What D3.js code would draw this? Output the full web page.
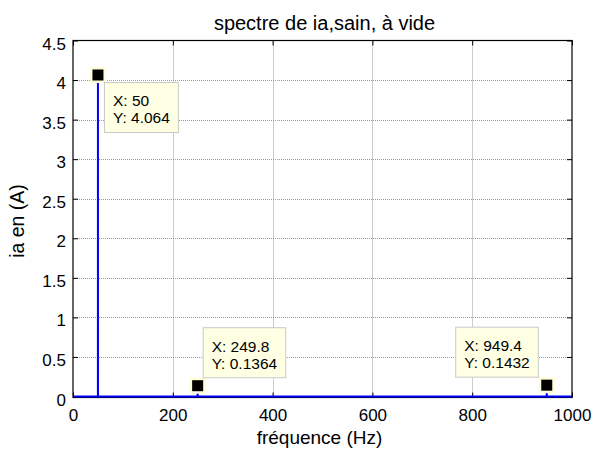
<!DOCTYPE html>
<html>
<head>
<meta charset="utf-8">
<script src="https://cdn.jsdelivr.net/npm/d3@7"></script>
<style>
  html, body { margin: 0; padding: 0; background: #fff; }
  svg { display: block; }
  text { font-family: "Liberation Sans", Arial, Helvetica, sans-serif; fill: #000; }
</style>
</head>
<body>
<svg id="chart" width="593" height="450"></svg>
<script>
// Amplitude spectrum of the phase current (healthy machine, no load)
const freqHz   = [0, 49.9, 50, 50.1, 249.7, 249.8, 249.9, 949.3, 949.4, 949.5, 1000];
const ampA     = [0, 0, 4.064, 0, 0, 0.1364, 0, 0, 0.1432, 0, 0];

// Data cursors shown on the plot
const tipX     = [50, 249.8, 949.4];
const tipY     = [4.064, 0.1364, 0.1432];
const tipPlace = ["below-right", "above-right", "above-left"];

// Axis ticks
const xTicks = [0, 200, 400, 600, 800, 1000];
const yTicks = [0, 0.5, 1, 1.5, 2, 2.5, 3, 3.5, 4, 4.5];

const titleText = "spectre de ia,sain, à vide";
const xLabel = "fréquence (Hz)";
const yLabel = "ia en (A)";

const svg = d3.select("#chart");
const pL = 73, pR = 572, pT = 40.5, pB = 397.5;

const x = d3.scaleLinear().domain([0, 1000]).range([pL, pR]);
const y = d3.scaleLinear().domain([0, 4.5]).range([pB - 1, pT]);

// Dotted grid
const grid = svg.append("g");
grid.selectAll("line.gx").data(xTicks.slice(1, -1)).join("line")
  .attr("x1", d => Math.round(x(d)) + 0.5).attr("x2", d => Math.round(x(d)) + 0.5)
  .attr("y1", pT).attr("y2", pB)
  .attr("stroke", "#9a9a9a").attr("stroke-width", 1).attr("stroke-dasharray", "1,1");
grid.selectAll("line.gy").data(yTicks.slice(1, -1)).join("line")
  .attr("y1", d => Math.round(y(d)) + 0.5).attr("y2", d => Math.round(y(d)) + 0.5)
  .attr("x1", pL).attr("x2", pR)
  .attr("stroke", "#9a9a9a").attr("stroke-width", 1).attr("stroke-dasharray", "1,1");

// Axes with inward ticks on all four sides
const tickLen = 5;
const fmt = d => d3.format("~g")(d);
const axBottom = d3.axisBottom(x).tickValues(xTicks).tickSize(-tickLen).tickPadding(11).tickFormat(fmt);
const axTop = d3.axisTop(x).tickValues(xTicks).tickSize(-tickLen).tickFormat("");
const axLeft = d3.axisLeft(y).tickValues(yTicks).tickSize(-tickLen).tickPadding(7).tickFormat(fmt);
const axRight = d3.axisRight(y).tickValues(yTicks).tickSize(-tickLen).tickFormat("");

function style(g) {
  g.select(".domain").remove();
  g.selectAll(".tick line").attr("stroke", "#000");
  g.selectAll(".tick text").attr("font-size", "17px").attr("fill", "#000");
}
svg.append("g").attr("transform", `translate(0,${pB})`).call(axBottom).call(style)
  .selectAll(".tick text").attr("dy", "0.71em");
svg.append("g").attr("transform", `translate(0,${pT})`).call(axTop).call(style);
svg.append("g").attr("transform", `translate(${pL},0)`).call(axLeft).call(style)
  .selectAll(".tick text").attr("dy", "0.5em");
svg.append("g").attr("transform", `translate(${pR},0)`).call(axRight).call(style);

// Box
svg.append("rect").attr("x", pL).attr("y", pT)
  .attr("width", pR - pL).attr("height", pB - pT)
  .attr("fill", "none").attr("stroke", "#000").attr("stroke-width", 1.2);

// Spectrum line
const line = d3.line().x((d, i) => x(freqHz[i])).y((d, i) => y(ampA[i]));
svg.append("path").datum(ampA).attr("d", line)
  .attr("fill", "none").attr("stroke", "#0000ff").attr("stroke-width", 2);

// Data cursors: marker + tip box
const tips = svg.append("g");
tipX.forEach((tx, i) => {
  const px = x(tx), py = y(tipY[i]);
  tips.append("rect").attr("x", px - 8).attr("y", py - 8).attr("width", 16).attr("height", 16)
    .attr("fill", "#fffcd8");
  tips.append("rect").attr("x", px - 5.5).attr("y", py - 5.5).attr("width", 11).attr("height", 11)
    .attr("fill", "#000");

  const l1 = "X: " + tx, l2 = "Y: " + tipY[i];
  const g = tips.append("g");
  const t1 = g.append("text").attr("font-size", "15.5px").text(l1);
  const t2 = g.append("text").attr("font-size", "15.5px").text(l2);
  const w = Math.max(t1.node().getComputedTextLength(), t2.node().getComputedTextLength()) + 17;
  const h = 50;
  let bx, by;
  if (tipPlace[i] === "below-right") { bx = px + 6.5; by = py + 7.5; }
  else if (tipPlace[i] === "above-right") { bx = px + 5.5; by = py - 58; }
  else { bx = px - 8.5 - w; by = py - 58; }
  g.insert("rect", "text").attr("x", bx).attr("y", by).attr("width", w).attr("height", h)
    .attr("fill", "#ffffe4").attr("stroke", "#c8c8c8").attr("stroke-width", 1);
  t1.attr("x", bx + 8.5).attr("y", by + 24);
  t2.attr("x", bx + 8.5).attr("y", by + 41);
});

// Titles
svg.append("text").attr("x", (pL + pR) / 2 + 2).attr("y", 30)
  .attr("text-anchor", "middle").attr("font-size", "20px").text(titleText);
svg.append("text").attr("x", (pL + pR) / 2 - 3).attr("y", 444)
  .attr("text-anchor", "middle").attr("font-size", "19px").text(xLabel);
svg.append("text").attr("transform", "translate(24,221) rotate(-90)")
  .attr("text-anchor", "middle").attr("font-size", "19.5px").text(yLabel);
</script>
</body>
</html>
